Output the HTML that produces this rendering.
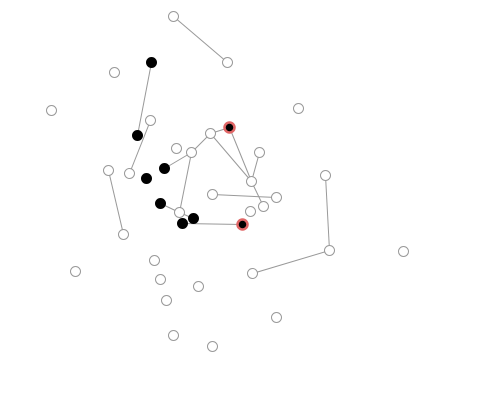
<!DOCTYPE html>
<html><head><meta charset="utf-8"><style>
html,body{margin:0;background:#fff;width:500px;height:400px;overflow:hidden}
</style></head><body>
<svg id="g" width="500" height="400" viewBox="-0.5 -0.5 500 400"></svg>
<script>
const nodeIds=["A","B","C","D","E","F","G","H","I","J","K","L","M","N","O","P","Q","R","S","T","U","V","W","X","Y","Z","AA","AB","AC","AD","AE","f1","f2","f3","f4","f5","f6","f7","r1","r2"];
const nodeX=[173,227,114,51,298,150,210,176,191,259,108,129,251,325,212,276,263,250,179,123,403,329,154,75,252,160,198,166,276,173,212,151,137,164,146,160,193,182,229,242];
const nodeY=[16,62,72,110,108,120,133,148,152,152,170,173,181,175,194,197,206,211,212,234,251,250,260,271,273,279,286,300,317,335,346,62,135,168,178,203,218,223,127,224];
const nodeType=[0,0,0,0,0,0,0,0,0,0,0,0,0,0,0,0,0,0,0,0,0,0,0,0,0,0,0,0,0,0,0,1,1,1,1,1,1,1,2,2];
const linkSource=["A","f1","F","f3","I","G","G","r1","J","M","I","f5","S","f7","O","K","N","V"];
const linkTarget=["B","f2","L","I","G","r1","M","M","M","Q","S","S","f6","r2","P","T","V","Y"];
const svg=document.getElementById('g');const NS='http://www.w3.org/2000/svg';
const idx=id=>nodeIds.indexOf(id);
for(let i=0;i<linkSource.length;i++){
  const a=idx(linkSource[i]),b=idx(linkTarget[i]);
  const l=document.createElementNS(NS,'line');
  
  
  l.setAttribute('x1',nodeX[a]);l.setAttribute('y1',nodeY[a]);
  l.setAttribute('x2',nodeX[b]);l.setAttribute('y2',nodeY[b]);
  l.setAttribute('stroke','#999');l.setAttribute('stroke-width','1');
  svg.appendChild(l);
}
for(let i=0;i<nodeIds.length;i++){
  const c=document.createElementNS(NS,'circle');
  
  
  c.setAttribute('cx',nodeX[i]);c.setAttribute('cy',nodeY[i]);c.setAttribute('r',5);
  const t=nodeType[i];
  c.setAttribute('fill',t===0?'#fff':'#000');
  c.setAttribute('stroke',t===0?'#999':(t===2?'#e06666':'#000'));
  c.setAttribute('stroke-width',t===2?'2.5':'1');
  svg.appendChild(c);
}
</script>
</body></html>
